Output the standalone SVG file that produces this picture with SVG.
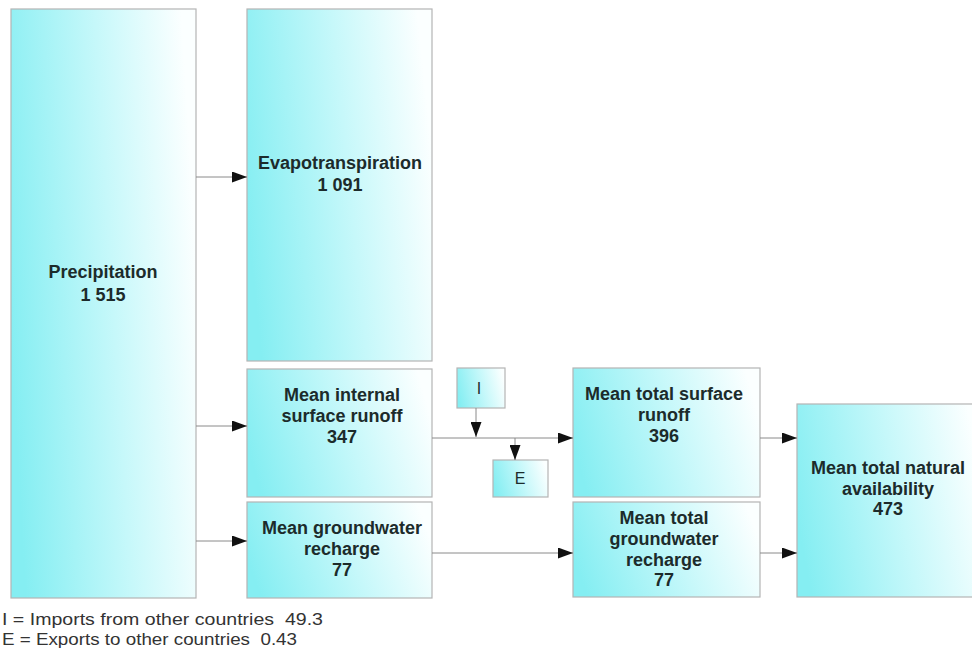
<svg xmlns="http://www.w3.org/2000/svg" width="972" height="654" viewBox="0 0 972 654">
<style>
.box{stroke:#b4b4b4;stroke-width:1.2;fill:url(#g)}
.lbl{font-family:"Liberation Sans",Arial,sans-serif;font-weight:bold;font-size:18px;fill:#1c2b2b;text-anchor:middle}
.ft{font-family:"Liberation Sans",Arial,sans-serif;font-size:17px;fill:#333}
.con{stroke:#8a8a8a;stroke-width:1;fill:none}
</style>
<defs>
<linearGradient id="g" x1="0" y1="0.6" x2="1" y2="0.4">
<stop offset="0" stop-color="#85eef2"/>
<stop offset="0.55" stop-color="#c6f8fa"/>
<stop offset="1" stop-color="#fbffff"/>
</linearGradient>
<marker id="ah" markerWidth="15" markerHeight="11" refX="15" refY="5.5" orient="auto" markerUnits="userSpaceOnUse">
<path d="M0,0 L15,5.5 L0,11 Z" fill="#111"/>
</marker>
</defs>
<rect width="972" height="654" fill="#ffffff"/>
<g id="precipitation"><rect class="box" x="11" y="9" width="185" height="589"/>
<text class="lbl" x="103" y="278">Precipitation</text><text class="lbl" x="103" y="301">1 515</text></g>
<g id="evapotranspiration"><rect class="box" x="247" y="9" width="185" height="352"/>
<text class="lbl" x="340" y="169">Evapotranspiration</text><text class="lbl" x="340" y="191">1 091</text></g>
<g id="internal-runoff"><rect class="box" x="247" y="369" width="185" height="128"/>
<text class="lbl" x="342" y="401">Mean internal</text><text class="lbl" x="342" y="422">surface runoff</text><text class="lbl" x="342" y="443">347</text></g>
<g id="groundwater"><rect class="box" x="247" y="502" width="185" height="96"/>
<text class="lbl" x="342" y="534">Mean groundwater</text><text class="lbl" x="342" y="555">recharge</text><text class="lbl" x="342" y="576">77</text></g>
<g id="imports"><rect class="box" x="457" y="368" width="48" height="40"/>
<text class="lbl" x="479" y="394" style="font-weight:normal;font-size:16px">I</text></g>
<g id="exports"><rect class="box" x="493" y="460" width="55" height="37"/>
<text class="lbl" x="520" y="484" style="font-weight:normal;font-size:16px">E</text></g>
<g id="total-runoff"><rect class="box" x="573" y="368" width="187" height="129"/>
<text class="lbl" x="664" y="400">Mean total surface</text><text class="lbl" x="664" y="421">runoff</text><text class="lbl" x="664" y="442">396</text></g>
<g id="total-groundwater"><rect class="box" x="573" y="502" width="187" height="95"/>
<text class="lbl" x="664" y="524">Mean total</text><text class="lbl" x="664" y="545">groundwater</text><text class="lbl" x="664" y="566">recharge</text><text class="lbl" x="664" y="586">77</text></g>
<g id="natural-availability"><rect class="box" x="797" y="404" width="185" height="193"/>
<text class="lbl" x="888" y="474">Mean total natural</text><text class="lbl" x="888" y="495">availability</text><text class="lbl" x="888" y="515">473</text></g>
<g id="connectors">
<line class="con" x1="196" y1="177" x2="247" y2="177" marker-end="url(#ah)"/>
<line class="con" x1="196" y1="426" x2="247" y2="426" marker-end="url(#ah)"/>
<line class="con" x1="196" y1="541" x2="247" y2="541" marker-end="url(#ah)"/>
<line class="con" x1="432" y1="438" x2="573" y2="438" marker-end="url(#ah)"/>
<line class="con" x1="476" y1="408" x2="476" y2="437" marker-end="url(#ah)"/>
<line class="con" x1="515" y1="438" x2="515" y2="460" marker-end="url(#ah)"/>
<line class="con" x1="432" y1="553" x2="573" y2="553" marker-end="url(#ah)"/>
<line class="con" x1="760" y1="438" x2="797" y2="438" marker-end="url(#ah)"/>
<line class="con" x1="760" y1="553" x2="797" y2="553" marker-end="url(#ah)"/>
</g>
<g id="legend">
<text class="ft" x="2" y="625" textLength="321" lengthAdjust="spacingAndGlyphs">I = Imports from other countries&#160; 49.3</text>
<text class="ft" x="2" y="645" textLength="295" lengthAdjust="spacingAndGlyphs">E = Exports to other countries&#160; 0.43</text>
</g>
</svg>
